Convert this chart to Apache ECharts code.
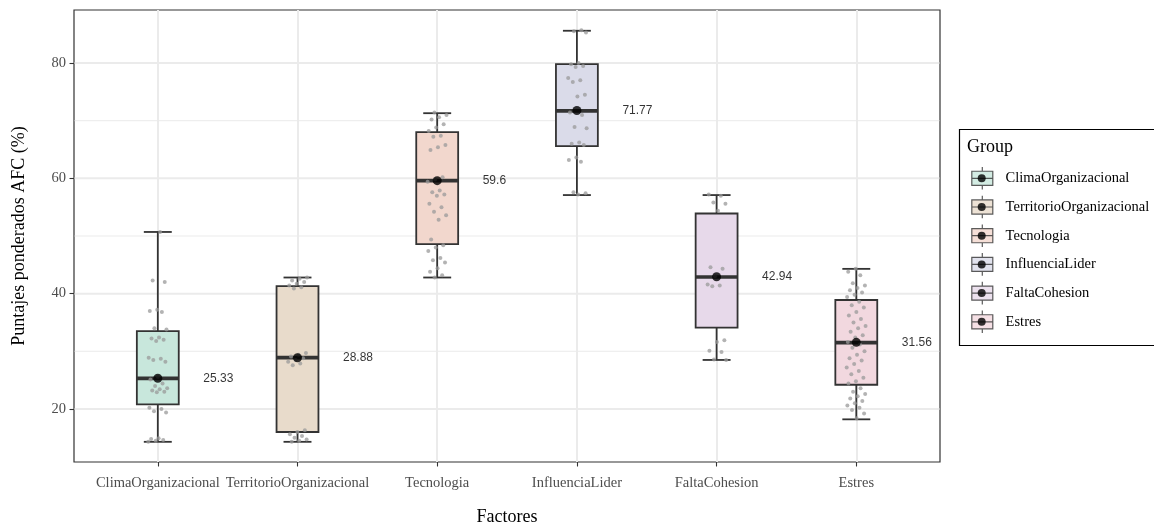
<!DOCTYPE html>
<html><head><meta charset="utf-8">
<script src="https://cdn.jsdelivr.net/npm/echarts@6/dist/echarts.min.js"></script>
<style>html,body{margin:0;padding:0;background:#fff}#c{width:1154px;height:525px}</style>
</head><body><div id="c"></div>
<script>
// ---- data ----
const categories = ['ClimaOrganizacional','TerritorioOrganizacional','Tecnologia','InfluenciaLider','FaltaCohesion','Estres'];
const boxMin    = [14.3, 14.3, 42.8, 57.1, 28.5, 18.2];
const boxQ1     = [20.8, 16.0, 48.6, 65.6, 34.1, 24.2];
const boxMedian = [25.3, 28.9, 59.6, 71.7, 42.9, 31.5];
const boxQ3     = [33.5, 41.3, 68.0, 79.8, 53.9, 38.9];
const boxMax    = [50.7, 42.8, 71.3, 85.6, 57.1, 44.3];
const meanValues = [25.33, 28.88, 59.6, 71.77, 42.94, 31.56];
const yTicks = [20, 40, 60, 80];
const yMinorTicks = [30, 50, 70];
const pointsClima = [50.7, 42.3, 42.0, 37.2, 37.0, 36.8, 34.0, 33.8, 32.4, 32.2, 32.0, 31.8, 28.9, 28.7, 28.5, 28.2, 25.6, 25.1, 24.4, 24.0, 23.6, 23.4, 23.2, 23.0, 22.9, 20.2, 20.0, 19.6, 19.4, 14.9, 14.8, 14.6, 14.5, 14.3];
const pointsTerritorio = [42.8, 42.6, 42.3, 42.0, 41.7, 41.4, 41.1, 40.9, 29.7, 29.4, 29.1, 28.8, 28.5, 28.2, 27.9, 27.6, 16.3, 16.0, 15.6, 15.3, 15.0, 14.7, 14.5, 14.3];
const pointsTecnologia = [71.4, 71.0, 70.6, 70.2, 69.4, 68.8, 68.2, 67.4, 67.2, 65.8, 65.4, 64.9, 60.2, 59.8, 59.4, 57.9, 57.6, 57.2, 57.0, 55.6, 55.0, 54.2, 53.6, 52.8, 49.4, 48.4, 48.0, 47.4, 46.2, 45.8, 45.4, 44.4, 43.8, 43.2, 42.8];
const pointsInfluencia = [85.7, 85.5, 85.3, 80.0, 79.8, 79.5, 79.3, 77.4, 77.0, 76.7, 74.5, 74.2, 71.4, 71.0, 68.9, 68.7, 66.2, 66.0, 65.8, 63.6, 63.2, 62.9, 57.6, 57.4, 57.2];
const pointsFalta = [57.2, 57.0, 55.8, 55.6, 54.4, 44.6, 44.3, 43.0, 41.6, 41.4, 41.3, 31.9, 31.6, 30.1, 29.9, 28.6, 28.5];
const pointsEstres = [44.3, 43.8, 43.2, 41.8, 41.4, 41.0, 40.6, 40.2, 39.8, 39.4, 38.6, 38.0, 37.6, 36.8, 36.2, 35.6, 35.0, 34.4, 34.0, 33.4, 32.8, 32.4, 31.6, 31.2, 30.6, 30.0, 29.4, 28.8, 28.4, 27.8, 27.2, 26.6, 26.0, 25.4, 24.8, 24.4, 23.6, 23.0, 22.6, 22.2, 21.8, 21.4, 21.0, 20.6, 20.2, 19.8, 19.2, 18.4];
const fillColors = ['#c8e7dc', '#e8dbcb', '#f2d7cd', '#dadbe9', '#e7d9ea', '#f2d8df'];
// ----------------------------------------------

const allPoints = [pointsClima, pointsTerritorio, pointsTecnologia, pointsInfluencia, pointsFalta, pointsEstres];
function jitter(k, j) { const f = ((j + 1) * 0.6180339887 + k * 0.37) % 1; return (f - 0.5) * 0.14; }
const jitterData = [];
allPoints.forEach((arr, k) => arr.forEach((v, j) => jitterData.push([k + jitter(k, j), v])));

const serif = 'Liberation Serif';
const yMin = 10.8, yMax = 89.2;
const chart = echarts.init(document.getElementById('c'), null, {renderer: 'canvas'});

function gridLineSeries(values, width) {
  return {
    type: 'custom', xAxisIndex: 0, yAxisIndex: 0, z: 1, silent: true, clip: false,
    data: values.map(v => [0, v]),
    renderItem: function (params, api) {
      const p = api.coord([0, api.value(1)]);
      const cs = params.coordSys;
      return {type: 'line', shape: {x1: cs.x + 0.6, y1: p[1], x2: cs.x + cs.width - 0.6, y2: p[1]},
              style: {stroke: '#ebebeb', lineWidth: width}};
    }
  };
}

const legendIcon = 'path://M10.5,0L10.5,4.25M0,4.25L21,4.25L21,18.35L0,18.35ZM0,11.3L21,11.3M10.5,18.35L10.5,22.6';

const option = {
  backgroundColor: '#ffffff',
  animation: false,
  title: {text: 'Group', left: 967, top: 138, padding: 0,
          textStyle: {fontFamily: serif, fontSize: 18, fontWeight: 'normal', color: '#000'}},
  graphic: [{type: 'rect', left: 957, top: 127, shape: {width: 230, height: 216},
             style: {fill: 'none', stroke: '#000', lineWidth: 1.2}, silent: true}],
  grid: [
    {left: 74, top: 10, width: 866, height: 452, show: true, borderColor: '#333', borderWidth: 1.2,
     backgroundColor: '#fff', outerBoundsMode: 'none', containLabel: false},
    {left: 157.8, top: 10, width: 698.5, height: 452, outerBoundsMode: 'none', containLabel: false}
  ],
  legend: [
    {orient: 'vertical', left: 971.2, top: 166.3, itemWidth: 36.6, itemHeight: 22.6, itemGap: 4.7,
     selectedMode: false, padding: 0,
     textStyle: {fontFamily: serif, fontSize: 14.5, color: '#000', lineHeight: 24},
     data: categories.map((c, i) => ({name: c, icon: legendIcon,
        itemStyle: {color: fillColors[i], borderColor: '#333', borderWidth: 1.2}}))},
    {orient: 'vertical', left: 977.7, top: 166.3, itemWidth: 8, itemHeight: 22.6, itemGap: 4.7,
     selectedMode: false, padding: 0,
     textStyle: {fontFamily: serif, fontSize: 14.5, color: 'rgba(0,0,0,0)', lineHeight: 24},
     data: categories.map(c => ({name: c, icon: 'circle', itemStyle: {color: '#000', borderWidth: 0}}))}
  ],
  xAxis: [
    {gridIndex: 0, type: 'value', min: 0, max: 1, show: false},
    {gridIndex: 1, type: 'category', data: categories, boundaryGap: false,
     axisLine: {show: false},
     axisTick: {show: true, length: 4.5, lineStyle: {color: '#333', width: 1.1}},
     axisLabel: {interval: 0, margin: 14, color: '#4d4d4d', fontFamily: serif, fontSize: 14.5},
     splitLine: {show: true, interval: 0, lineStyle: {color: '#ebebeb', width: 2}},
     name: 'Factores', nameLocation: 'middle', nameGap: 46,
     nameTextStyle: {fontFamily: serif, fontSize: 18, color: '#000'}},
    {gridIndex: 1, type: 'value', min: 0, max: 5, show: false}
  ],
  yAxis: [
    {gridIndex: 0, type: 'value', min: yMin, max: yMax,
     axisLine: {show: false},
     axisTick: {show: true, length: 4.5, customValues: yTicks, lineStyle: {color: '#333', width: 1.1}},
     axisLabel: {customValues: yTicks, margin: 8, color: '#4d4d4d', fontFamily: serif, fontSize: 14.5},
     splitLine: {show: false},
     name: 'Puntajes ponderados AFC (%)', nameLocation: 'middle', nameGap: 46,
     nameTextStyle: {fontFamily: serif, fontSize: 18, color: '#000'}},
    {gridIndex: 1, type: 'value', min: yMin, max: yMax, show: false}
  ],
  series: [
    gridLineSeries(yMinorTicks, 1),
    gridLineSeries(yTicks, 2),
    {
      type: 'custom', name: 'boxes', xAxisIndex: 2, yAxisIndex: 1, z: 2, clip: false,
      data: categories.map((c, i) => [i, boxMin[i], boxQ1[i], boxMedian[i], boxQ3[i], boxMax[i]]),
      renderItem: function (params, api) {
        const x = api.value(0);
        const pLo = api.coord([x, api.value(1)]), pQ1 = api.coord([x, api.value(2)]),
              pMed = api.coord([x, api.value(3)]), pQ3 = api.coord([x, api.value(4)]),
              pHi = api.coord([x, api.value(5)]);
        const boxW = api.size([0.3, 0])[0], capW = api.size([0.2, 0])[0];
        const cx = pMed[0], s = '#333333', lw = 1.8;
        return {type: 'group', children: [
          {type: 'line', shape: {x1: cx, y1: pHi[1], x2: cx, y2: pLo[1]}, style: {stroke: s, lineWidth: lw}},
          {type: 'line', shape: {x1: cx - capW / 2, y1: pHi[1], x2: cx + capW / 2, y2: pHi[1]}, style: {stroke: s, lineWidth: lw}},
          {type: 'line', shape: {x1: cx - capW / 2, y1: pLo[1], x2: cx + capW / 2, y2: pLo[1]}, style: {stroke: s, lineWidth: lw}},
          {type: 'rect', shape: {x: cx - boxW / 2, y: pQ3[1], width: boxW, height: pQ1[1] - pQ3[1]},
           style: {fill: fillColors[params.dataIndex], stroke: s, lineWidth: lw}},
          {type: 'line', shape: {x1: cx - boxW / 2, y1: pMed[1], x2: cx + boxW / 2, y2: pMed[1]}, style: {stroke: s, lineWidth: 3.6}}
        ]};
      }
    },
    {
      type: 'scatter', name: 'points', xAxisIndex: 2, yAxisIndex: 1, z: 3, clip: false, silent: true,
      symbolSize: 4, itemStyle: {color: '#999999', opacity: 0.75},
      data: jitterData
    },
    {
      type: 'scatter', name: 'means', xAxisIndex: 2, yAxisIndex: 1, z: 4, clip: false,
      symbolSize: 9, itemStyle: {color: '#000'},
      data: meanValues.map((v, k) => [k, v]),
      label: {show: true, position: 'right', distance: 41, color: '#000',
              fontFamily: 'Liberation Sans', fontSize: 12,
              formatter: p => String(p.value[1])}
    }
  ].concat(categories.map(c => ({type: 'scatter', name: c, xAxisIndex: 2, yAxisIndex: 1, data: []})))
};
chart.setOption(option);
</script></body></html>
